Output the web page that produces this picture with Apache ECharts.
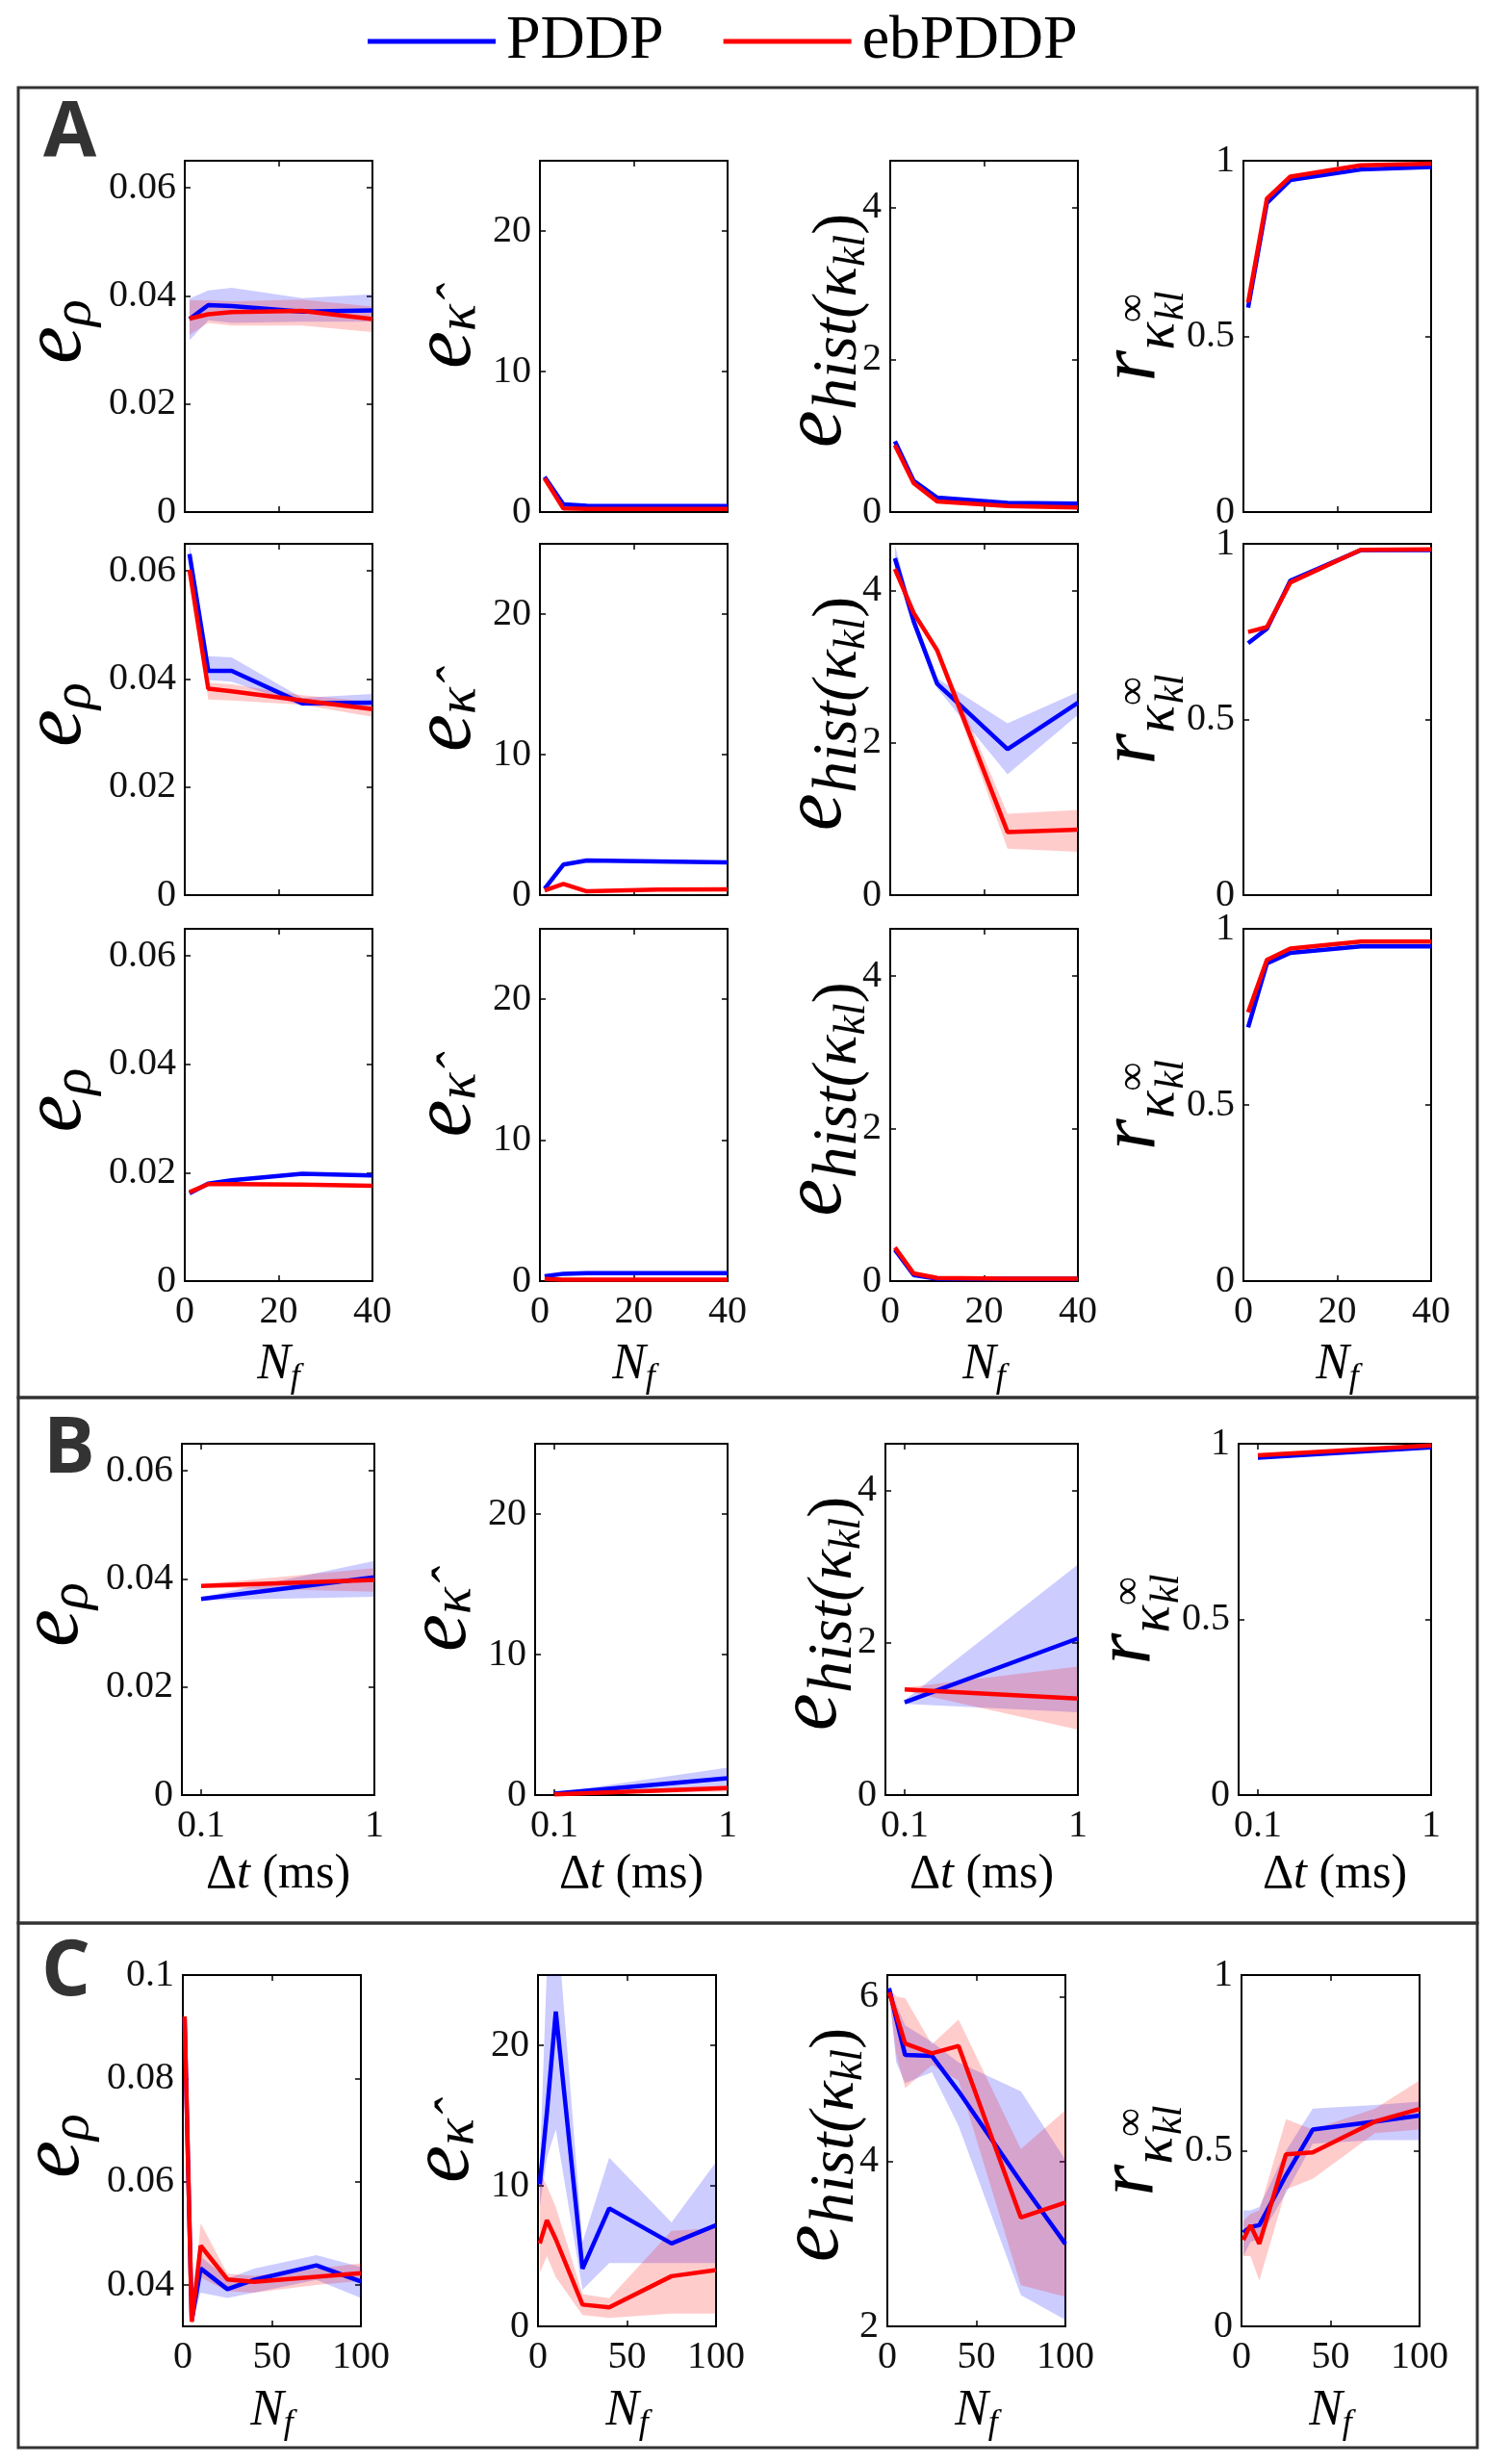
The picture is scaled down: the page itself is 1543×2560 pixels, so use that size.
<!DOCTYPE html>
<html><head><meta charset="utf-8">
<script src="https://cdn.jsdelivr.net/npm/echarts@6/dist/echarts.min.js"></script>
<style>html,body{margin:0;padding:0;background:#fff}#c{width:1543px;height:2560px}</style>
</head><body><div id="c"></div>
<script>
// ---------------- DATA ----------------
const seriesNames = ['PDDP', 'ebPDDP'];
const xA = [1, 5, 10, 25, 40];
const xB = [0.1, 1];
const xC = [1, 5, 10, 25, 40, 75, 100];

const xTicksA = [0, 20, 40];
const xTicksB = [0.1, 1];
const xTicksC = [0, 50, 100];
const yTicksRho = [0, 0.02, 0.04, 0.06];
const yTicksRhoC = [0.04, 0.06, 0.08, 0.1];
const yTicksKap = [0, 10, 20];
const yTicksHist = [0, 2, 4];
const yTicksHistC = [2, 4, 6];
const yTicksR = [0, 0.5, 1];

// Row A1
const rhoA1_P   = [0.0357, 0.0383, 0.0381, 0.0371, 0.0373];
const rhoA1_Plo = [0.0318, 0.0355, 0.0350, 0.0352, 0.0352];
const rhoA1_Phi = [0.0395, 0.0410, 0.0415, 0.0396, 0.0403];
const rhoA1_E   = [0.0358, 0.0366, 0.0370, 0.0372, 0.0357];
const rhoA1_Elo = [0.0328, 0.0350, 0.0345, 0.0345, 0.0333];
const rhoA1_Ehi = [0.0392, 0.0392, 0.0390, 0.0393, 0.0380];
const kapA1_P = [2.5, 0.55, 0.45, 0.42, 0.42];
const kapA1_E = [2.4, 0.25, 0.22, 0.22, 0.22];
const histA1_P = [0.93, 0.41, 0.19, 0.12, 0.11];
const histA1_E = [0.88, 0.38, 0.14, 0.08, 0.06];
const rA1_P = [0.582, 0.880, 0.945, 0.975, 0.982];
const rA1_E = [0.596, 0.892, 0.955, 0.987, 0.992];

// Row A2
const rhoA2_P   = [0.0631, 0.0415, 0.0415, 0.0355, 0.0356];
const rhoA2_Plo = [0.0620, 0.0398, 0.0395, 0.0350, 0.0348];
const rhoA2_Phi = [0.0650, 0.0442, 0.0440, 0.0365, 0.0372];
const rhoA2_E   = [0.0602, 0.0382, 0.0377, 0.0360, 0.0344];
const rhoA2_Elo = [0.0595, 0.0362, 0.0360, 0.0352, 0.0330];
const rhoA2_Ehi = [0.0610, 0.0393, 0.0390, 0.0370, 0.0358];
const kapA2_P = [0.46, 2.17, 2.47, 2.40, 2.33];
const kapA2_E = [0.34, 0.80, 0.27, 0.39, 0.41];
const histA2_P   = [4.43, 3.60, 2.78, 1.92, 2.53];
const histA2_Plo = [4.35, 3.55, 2.72, 1.59, 2.37];
const histA2_Phi = [4.60, 3.68, 2.85, 2.26, 2.67];
const histA2_E   = [4.29, 3.71, 3.22, 0.83, 0.86];
const histA2_Elo = [4.22, 3.66, 3.17, 0.61, 0.57];
const histA2_Ehi = [4.36, 3.76, 3.27, 1.07, 1.12];
const rA2_P = [0.717, 0.758, 0.895, 0.982, 0.982];
const rA2_E = [0.749, 0.763, 0.890, 0.983, 0.984];

// Row A3
const rhoA3_P = [0.0162, 0.0180, 0.0186, 0.0198, 0.0195];
const rhoA3_E = [0.0164, 0.0179, 0.0179, 0.0178, 0.0176];
const kapA3_P = [0.34, 0.52, 0.57, 0.57, 0.57];
const kapA3_E = [0.15, 0.11, 0.11, 0.11, 0.11];
const histA3_P = [0.41, 0.08, 0.03, 0.03, 0.03];
const histA3_E = [0.44, 0.10, 0.04, 0.03, 0.03];
const rA3_P = [0.720, 0.902, 0.932, 0.950, 0.950];
const rA3_E = [0.763, 0.912, 0.944, 0.964, 0.964];

// Row B
const rhoB_P   = [0.0363, 0.0403];
const rhoB_Plo = [0.0360, 0.0367];
const rhoB_Phi = [0.0366, 0.0433];
const rhoB_E   = [0.0387, 0.0398];
const rhoB_Elo = [0.0384, 0.0376];
const rhoB_Ehi = [0.0390, 0.0420];
const kapB_P   = [0.10, 1.20];
const kapB_Plo = [0.05, 0.50];
const kapB_Phi = [0.15, 1.95];
const kapB_E   = [0.05, 0.50];
const kapB_Elo = [0.02, 0.25];
const kapB_Ehi = [0.08, 0.70];
const histB_P   = [1.22, 2.06];
const histB_Plo = [1.20, 1.09];
const histB_Phi = [1.25, 3.03];
const histB_E   = [1.39, 1.27];
const histB_Elo = [1.37, 0.86];
const histB_Ehi = [1.41, 1.69];
const rB_P = [0.960, 0.990];
const rB_E = [0.967, 0.995];

// Row C
const rhoC_P   = [0.0915, 0.0332, 0.0432, 0.0392, 0.0410, 0.0438, 0.0407];
const rhoC_Plo = [0.0905, 0.0325, 0.0385, 0.0375, 0.0385, 0.0410, 0.0375];
const rhoC_Phi = [0.0925, 0.0340, 0.0455, 0.0412, 0.0432, 0.0458, 0.0435];
const rhoC_E   = [0.0920, 0.0329, 0.0476, 0.0411, 0.0406, 0.0416, 0.0423];
const rhoC_Elo = [0.0910, 0.0322, 0.0415, 0.0388, 0.0385, 0.0400, 0.0408];
const rhoC_Ehi = [0.0930, 0.0336, 0.0520, 0.0422, 0.0418, 0.0432, 0.0442];
const kapC_P   = [10.1, 15.2, 22.4, 4.1, 8.4, 5.9, 7.2];
const kapC_Plo = [8.5, 12.0, 14.0, 2.6, 4.5, 4.5, 4.5];
const kapC_Phi = [11.5, 25.5, 30.0, 6.0, 12.0, 7.4, 11.7];
const kapC_E   = [5.9, 7.55, 6.2, 1.55, 1.35, 3.57, 4.0];
const kapC_Elo = [3.8, 5.0, 3.5, 0.8, 0.6, 0.9, 0.9];
const kapC_Ehi = [11.0, 10.0, 8.5, 2.3, 2.0, 6.8, 7.0];
const histC_P   = [6.10, 5.73, 5.29, 5.28, 4.85, 3.75, 3.00];
const histC_Plo = [6.05, 5.20, 4.95, 5.08, 4.43, 2.38, 2.08];
const histC_Phi = [6.15, 5.90, 5.65, 5.45, 5.20, 4.85, 4.02];
const histC_E   = [6.05, 5.78, 5.43, 5.31, 5.40, 3.32, 3.50];
const histC_Elo = [6.00, 5.30, 4.89, 5.17, 4.98, 2.50, 2.36];
const histC_Ehi = [6.10, 6.00, 5.98, 5.42, 5.72, 4.15, 4.62];
const rC_P   = [0.267, 0.283, 0.288, 0.430, 0.560, 0.583, 0.600];
const rC_Plo = [0.20, 0.24, 0.25, 0.38, 0.52, 0.53, 0.53];
const rC_Phi = [0.33, 0.33, 0.34, 0.50, 0.62, 0.63, 0.64];
const rC_E   = [0.246, 0.288, 0.235, 0.490, 0.495, 0.583, 0.619];
const rC_Elo = [0.20, 0.20, 0.13, 0.39, 0.42, 0.55, 0.56];
const rC_Ehi = [0.30, 0.32, 0.33, 0.59, 0.56, 0.62, 0.70];

// ---------------- TABLES built from data ----------------
const plotData = {
  A1: [
    {x: xA, P: rhoA1_P, Plo: rhoA1_Plo, Phi: rhoA1_Phi, E: rhoA1_E, Elo: rhoA1_Elo, Ehi: rhoA1_Ehi},
    {x: xA, P: kapA1_P, E: kapA1_E},
    {x: xA, P: histA1_P, E: histA1_E},
    {x: xA, P: rA1_P, E: rA1_E}],
  A2: [
    {x: xA, P: rhoA2_P, Plo: rhoA2_Plo, Phi: rhoA2_Phi, E: rhoA2_E, Elo: rhoA2_Elo, Ehi: rhoA2_Ehi},
    {x: xA, P: kapA2_P, E: kapA2_E},
    {x: xA, P: histA2_P, Plo: histA2_Plo, Phi: histA2_Phi, E: histA2_E, Elo: histA2_Elo, Ehi: histA2_Ehi},
    {x: xA, P: rA2_P, E: rA2_E}],
  A3: [
    {x: xA, P: rhoA3_P, E: rhoA3_E},
    {x: xA, P: kapA3_P, E: kapA3_E},
    {x: xA, P: histA3_P, E: histA3_E},
    {x: xA, P: rA3_P, E: rA3_E}],
  B: [
    {x: xB, P: rhoB_P, Plo: rhoB_Plo, Phi: rhoB_Phi, E: rhoB_E, Elo: rhoB_Elo, Ehi: rhoB_Ehi},
    {x: xB, P: kapB_P, Plo: kapB_Plo, Phi: kapB_Phi, E: kapB_E, Elo: kapB_Elo, Ehi: kapB_Ehi},
    {x: xB, P: histB_P, Plo: histB_Plo, Phi: histB_Phi, E: histB_E, Elo: histB_Elo, Ehi: histB_Ehi},
    {x: xB, P: rB_P, E: rB_E}],
  C: [
    {x: xC, P: rhoC_P, Plo: rhoC_Plo, Phi: rhoC_Phi, E: rhoC_E, Elo: rhoC_Elo, Ehi: rhoC_Ehi},
    {x: xC, P: kapC_P, Plo: kapC_Plo, Phi: kapC_Phi, E: kapC_E, Elo: kapC_Elo, Ehi: kapC_Ehi},
    {x: xC, P: histC_P, Plo: histC_Plo, Phi: histC_Phi, E: histC_E, Elo: histC_Elo, Ehi: histC_Ehi},
    {x: xC, P: rC_P, Plo: rC_Plo, Phi: rC_Phi, E: rC_E, Elo: rC_Elo, Ehi: rC_Ehi}]
};

const xCfg = {
  A: {min: 0, max: 40, ticks: xTicksA},
  B: {min: 0, max: 1, ticks: xTicksB},
  C: {min: 0, max: 100, ticks: xTicksC}
};
const yCfgAB = [
  {min: 0, max: 0.065, ticks: yTicksRho},
  {min: 0, max: 25, ticks: yTicksKap},
  {min: 0, max: 4.62, ticks: yTicksHist},
  {min: 0, max: 1, ticks: yTicksR}];
const yCfgC = [
  {min: 0.032, max: 0.1, ticks: yTicksRhoC},
  {min: 0, max: 25, ticks: yTicksKap},
  {min: 2, max: 6.26, ticks: yTicksHistC},
  {min: 0, max: 1, ticks: yTicksR}];

// ---------------- LAYOUT ----------------
const FAM = 'Liberation Serif';
const layoutRows = [
  {key: 'A1', kind: 'A', top: 167, h: 365, lefts: [192, 561, 925, 1292], w: 195, xLab: false},
  {key: 'A2', kind: 'A', top: 565, h: 365, lefts: [192, 561, 925, 1292], w: 195, xLab: false},
  {key: 'A3', kind: 'A', top: 965, h: 366, lefts: [192, 561, 925, 1292], w: 195, xLab: true, xName: 'N', xNameY: 1418},
  {key: 'B', kind: 'B', top: 1500, h: 365, lefts: [189, 556, 920, 1287], w: 200, xLab: true, xName: 'dt', xNameY: 1948},
  {key: 'C', kind: 'C', top: 2052, h: 365, lefts: [190, 559, 922, 1290], w: 185, xLab: true, xName: 'N', xNameY: 2505}
];

const yLabelParts = [
  [{t: 'e', s: 88, it: 1, dy: 0}, {t: 'ρ', s: 58, it: 1, dy: 18}],
  [{t: 'e', s: 88, it: 1, dy: 0}, {t: 'κ\u0302', s: 58, it: 1, dy: 13}],
  [{t: 'e', s: 88, it: 1, dy: 0}, {t: 'hist(', s: 66, it: 1, dy: 22}, {t: 'κ', s: 66, it: 1, dy: 22},
   {t: 'kl', s: 46, it: 1, dy: 36}, {t: ')', s: 66, it: 0, dy: 22}],
  [{t: 'r', s: 84, it: 1, dy: 0}, {t: 'κ', s: 60, it: 1, dy: 25}, {t: '∞', s: 42, it: 0, dy: 0},
   {t: 'kl', s: 42, it: 1, dy: 40, stack: 1, sx: 2}]
];
const yLabelPos = [{dx: -126, dc: -5}, {dx: -90, dc: 0}, {dx: -69, dc: -6}, {dx: -108, dc: 0}];
const xNameParts = {
  N: [{t: 'N', s: 52, it: 1, dy: 0}, {t: 'f', s: 36, it: 1, dy: 14}],
  dt: [{t: 'Δ', s: 50, it: 0, dy: 0}, {t: 't', s: 50, it: 1, dy: 0}, {t: ' (ms)', s: 50, it: 0, dy: 0}]
};

const mctx = document.createElement('canvas').getContext('2d');
function buildMath(parts) {
  let cursor = 0, prevX = 0;
  const kids = [];
  parts.forEach(p => {
    const fs = p.it ? 'italic' : 'normal';
    mctx.font = fs + ' ' + p.s + 'px "' + FAM + '"';
    const wd = mctx.measureText(p.t).width;
    const x = p.stack ? prevX + (p.sx || 0) : cursor;
    if (!p.stack) prevX = x;
    cursor = Math.max(cursor, x + wd);
    kids.push({type: 'text', x: x, y: p.dy, silent: true,
      style: {text: p.t, fontFamily: FAM, fontSize: p.s, fontStyle: fs, fill: '#000',
        textAlign: 'left', textVerticalAlign: 'middle', verticalAlign: 'middle'}});
  });
  return {kids, len: cursor};
}

const fmt = v => String(+(+v).toFixed(4));
const BLUE = '#0000ff', RED = '#ff0000';
const grids = [], xAxes = [], yAxes = [], series = [], graphics = [];

layoutRows.forEach(row => {
  for (let c = 0; c < 4; c++) {
    const g = grids.length;
    const left = row.lefts[c], top = row.top, w = row.w, h = row.h;
    grids.push({left: left, top: top, width: w, height: h, show: true, borderColor: '#000', borderWidth: 2,
      backgroundColor: 'rgba(0,0,0,0)', containLabel: false, outerBoundsMode: 'none'});
    const xc = xCfg[row.kind];
    const yc = (row.kind === 'C' ? yCfgC : yCfgAB)[c];
    const tickBase = {show: true, inside: true, length: 6, lineStyle: {color: '#000', width: 1.5}};
    const lineBase = {show: true, onZero: false, lineStyle: {color: '#000', width: 2}};
    ['bottom', 'top'].forEach((pos, k) => {
      xAxes.push({gridIndex: g, type: 'value', position: pos, min: xc.min, max: xc.max,
        axisLine: lineBase, splitLine: {show: false},
        axisTick: Object.assign({customValues: xc.ticks}, tickBase),
        axisLabel: {show: k === 0 && row.xLab, customValues: xc.ticks, formatter: fmt,
          fontFamily: FAM, fontSize: 40, color: '#111', margin: 12}});
    });
    ['left', 'right'].forEach((pos, k) => {
      yAxes.push({gridIndex: g, type: 'value', position: pos, min: yc.min, max: yc.max,
        axisLine: lineBase, splitLine: {show: false},
        axisTick: Object.assign({customValues: yc.ticks}, tickBase),
        axisLabel: {show: k === 0, customValues: yc.ticks, formatter: fmt,
          fontFamily: FAM, fontSize: 40, color: '#111', margin: 9}});
    });
    const d = plotData[row.key][c];
    const xi = 2 * g, yi = 2 * g;
    const pairs = ys => d.x.map((x, i) => [x, ys[i]]);
    [['P', 'rgba(0,0,255,0.2)'], ['E', 'rgba(255,0,0,0.2)']].forEach(([k, col]) => {
      const lo = d[k + 'lo'], hi = d[k + 'hi'];
      if (!lo) return;
      series.push({type: 'custom', name: 'band' + k, xAxisIndex: xi, yAxisIndex: yi, silent: true, z: 2,
        data: d.x.map((x, i) => [x, lo[i], hi[i]]),
        encode: {x: 0, y: [1, 2]},
        renderItem: function (params, api) {
          if (params.dataIndex !== 0) return null;
          const upper = d.x.map((x, i) => api.coord([x, hi[i]]));
          const lower = d.x.map((x, i) => api.coord([x, lo[i]])).reverse();
          const cs = params.coordSys;
          return {type: 'polygon', shape: {points: upper.concat(lower)}, style: {fill: col},
            clipPath: {type: 'rect', shape: {x: cs.x, y: cs.y, width: cs.width, height: cs.height}}};
        }});
    });
    [['P', BLUE, 3], ['E', RED, 4]].forEach(([k, col, z], j) => {
      series.push({type: 'line', name: seriesNames[j], xAxisIndex: xi, yAxisIndex: yi, symbol: 'none',
        silent: true, data: pairs(d[k]), z: z,
        lineStyle: {color: col, width: 4.5}, itemStyle: {color: col}});
    });
    const yl = buildMath(yLabelParts[c]);
    const yp = yLabelPos[c];
    graphics.push({type: 'group', x: left + yp.dx - 6, y: top + h / 2 + yp.dc + yl.len / 2,
      rotation: Math.PI / 2, silent: true, children: yl.kids});
    if (row.xName) {
      const xl = buildMath(xNameParts[row.xName]);
      graphics.push({type: 'group', x: left + w / 2 - xl.len / 2, y: row.xNameY, silent: true, children: xl.kids});
    }
  }
});

[[91, 1452], [1452, 1998], [1998, 2543]].forEach(([y0, y1]) => {
  graphics.push({type: 'rect', shape: {x: 19, y: y0, width: 1516, height: y1 - y0}, silent: true,
    style: {fill: 'none', stroke: '#333', lineWidth: 3}});
});
[['A', 45, 140], ['B', 45, 1507], ['C', 43, 2050]].forEach(([t, x, y]) => {
  graphics.push({type: 'text', x: x, y: y, silent: true,
    style: {text: t, fontFamily: 'Open Sans', fontWeight: 'bold', fontSize: 80, fill: '#333',
      textAlign: 'left', textVerticalAlign: 'middle', verticalAlign: 'middle'}});
});

const chart = echarts.init(document.getElementById('c'), null, {renderer: 'canvas', width: 1543, height: 2560});
chart.setOption({
  animation: false,
  backgroundColor: '#fff',
  legend: {data: seriesNames, left: 377, top: 6, icon: 'rect', itemWidth: 133, itemHeight: 5, itemGap: 62,
    selectedMode: false,
    textStyle: {fontFamily: FAM, fontSize: 64, color: '#000', padding: [0, 0, 12, 6]}},
  grid: grids, xAxis: xAxes, yAxis: yAxes, series: series, graphic: graphics
});
</script></body></html>
